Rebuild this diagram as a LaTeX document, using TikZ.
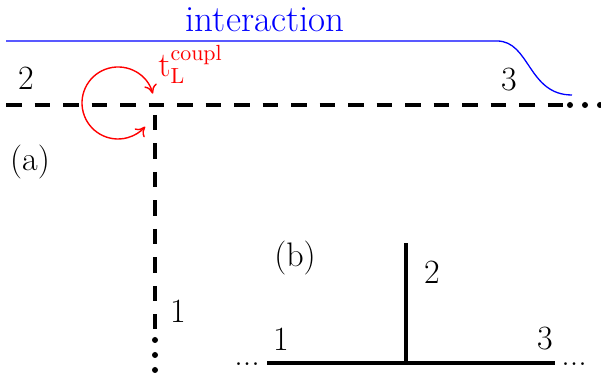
\documentclass[tikz,border=0pt]{standalone}
\usetikzlibrary{calc, arrows.meta, positioning}

\begin{document}
\begin{tikzpicture}[x=0.5pt, y=-0.5pt, >={To[length=4.5pt, width=6.5pt]},
    lbl/.style={inner sep=0pt, font=\fontsize{17}{20}\selectfont},
    chain/.style={line width=2pt, dash pattern=on 7.75pt off 6.5pt},
    bond/.style={line width=1.7pt},
    dotmark/.style={circle, fill, inner sep=0pt, minimum size=3pt}]
    \useasboundingbox (0,0) rectangle (601,378);

    % (a) dashed chain
    \coordinate (hL) at (6,105);
    \coordinate (hR) at (567,105);
    \coordinate (vT) at (155,115);
    \coordinate (vB) at (155,329);
    \draw[chain] (hL) -- (hR);
    \draw[chain] (vT) -- (vB);
    \foreach \i/\x in {1/570, 2/585, 3/600}
        \node[dotmark] (hd\i) at (\x,105) {};
    \foreach \i/\y in {1/340, 2/355, 3/370}
        \node[dotmark] (vd\i) at (155,\y) {};

    % interaction range
    \coordinate (iL) at (6,41);
    \coordinate (iK) at (497,41);
    \coordinate (iE) at (572,95);
    \draw[blue, line width=0.65pt] (iL) -- (iK) .. controls (530,41) and (528,95) .. (iE);
    \node[lbl, blue, font=\fontsize{18.5}{22}\selectfont, anchor=base] (inter) at (265,32) {interaction};

    % coupling
    \coordinate (rc) at (118,103);
    \draw[red, line width=0.7pt, <->] ($(rc)+(-15:36)$) arc[start angle=-15, end angle=-319, radius=36];
    \node[lbl, red, font=\fontsize{16}{18}\selectfont, anchor=base west] (tc) at (158,77)
        {$\mathrm{t}_\mathrm{L}^\mathrm{coupl}$};

    \node[lbl] (a2) at (26,78) {2};
    \node[lbl] (a3) at (509,80) {3};
    \node[lbl] (a1) at (178,311) {1};
    \node[lbl] (alab) at (30,162) {(a)};

    % (b) solid chain
    \coordinate (bJ) at (406,363);
    \coordinate (bT) at (406,243);
    \coordinate (bL) at (267,363);
    \coordinate (bR) at (555,363);
    \draw[bond] (bL) -- (bR);
    \draw[bond] (bJ) -- (bT);
    \node[lbl, anchor=base] (bdl) at (247,366) {...};
    \node[lbl, anchor=base] (bdr) at (574,366) {...};
    \node[lbl] (b1) at (281,339) {1};
    \node[lbl] (b2) at (432,272) {2};
    \node[lbl] (b3) at (545,339) {3};
    \node[lbl] (blab) at (295,258) {(b)};
\end{tikzpicture}
\end{document}
